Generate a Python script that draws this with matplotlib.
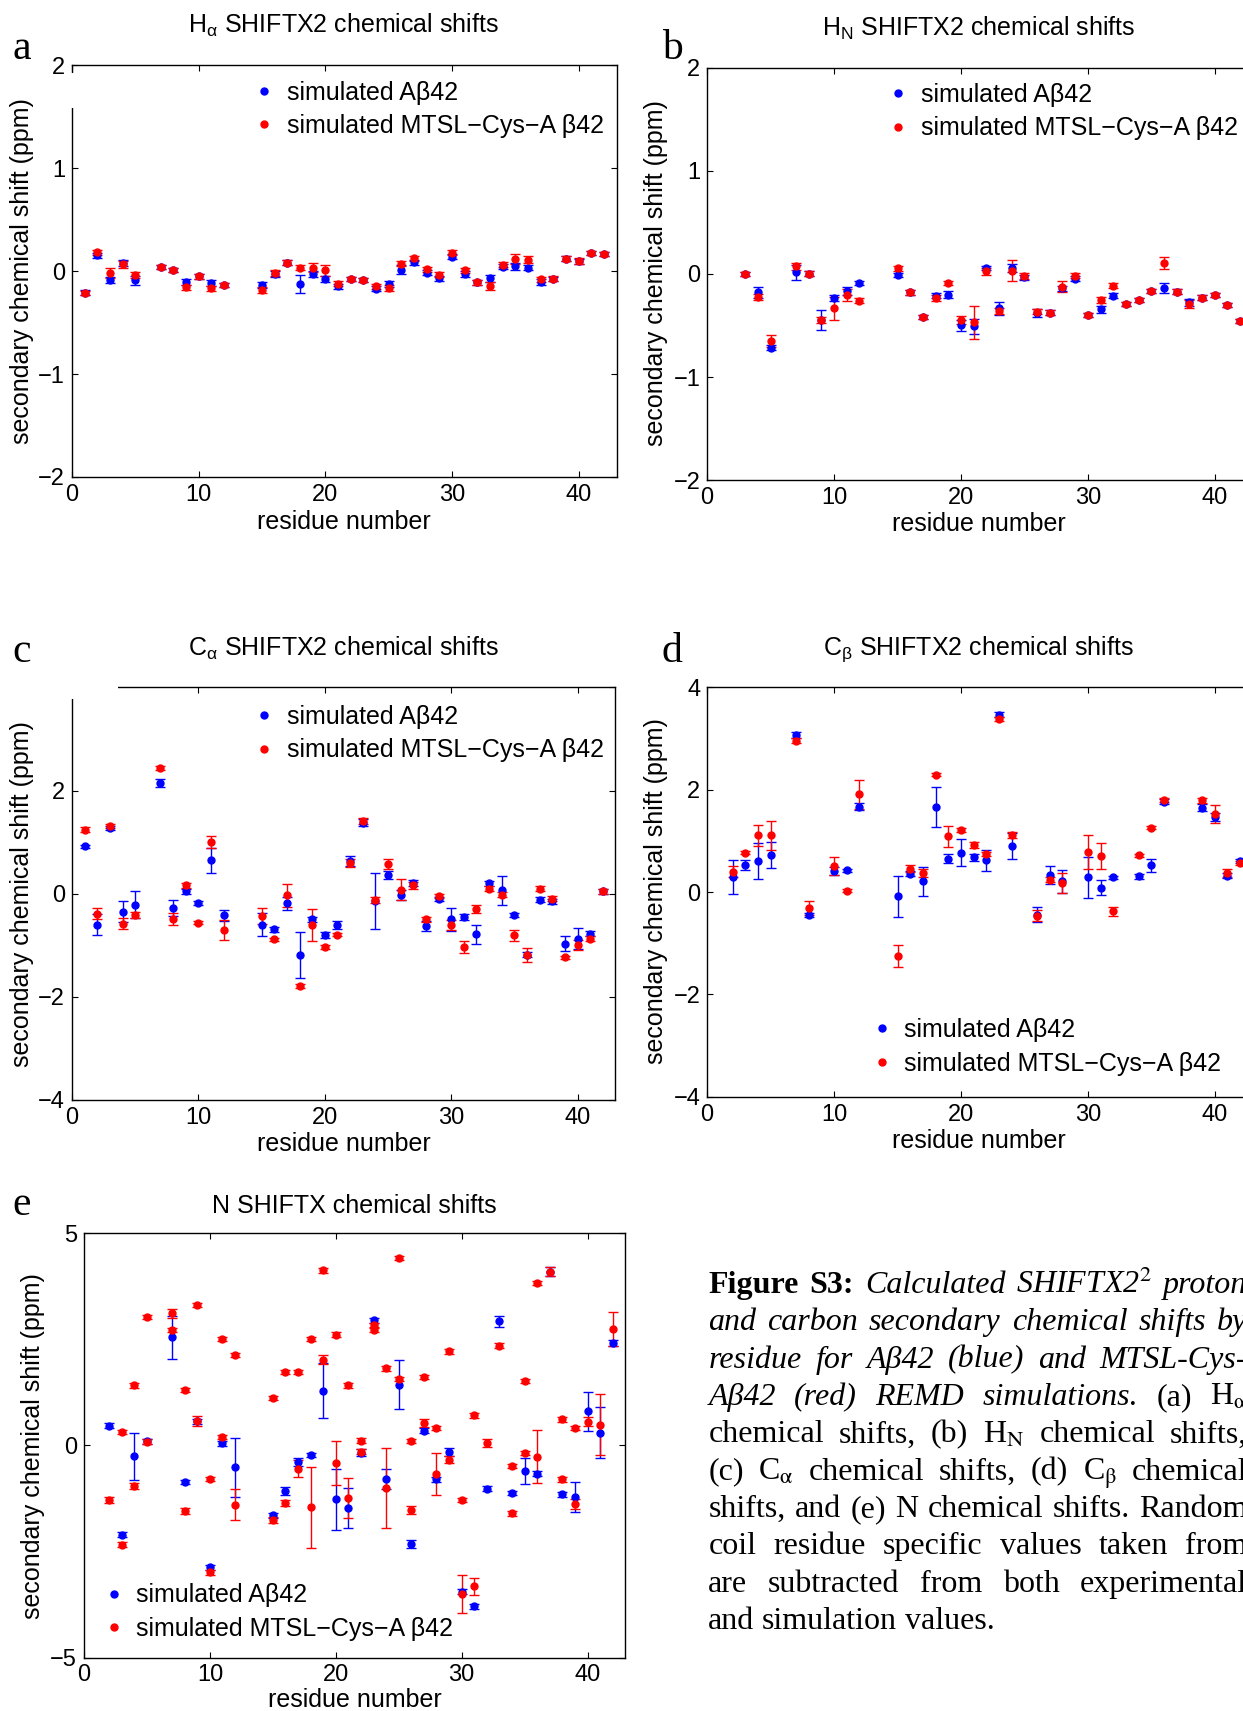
import numpy as np
import matplotlib
matplotlib.use("Agg")
import matplotlib.pyplot as plt
from matplotlib.lines import Line2D
from matplotlib.patches import Rectangle

plt.rcParams['font.family'] = ['Liberation Sans', 'DejaVu Sans']
plt.rcParams['mathtext.fontset'] = 'custom'
plt.rcParams['mathtext.rm'] = 'Liberation Sans'
plt.rcParams['mathtext.it'] = 'Liberation Sans:italic'
plt.rcParams['mathtext.bf'] = 'Liberation Sans:bold'

# ---- (a) H-alpha ----
a_res = [1, 2, 3, 4, 5, 7, 8, 9, 10, 11, 12,
         15, 16, 17, 18, 19, 20, 21, 22, 23, 24, 25, 26, 27, 28,
         29, 30, 31, 32, 33, 34, 35, 36, 37, 38, 39, 40, 41, 42]
a_blue = [-0.21, 0.155, -0.088, 0.08, -0.088, 0.04, 0.007, -0.106, -0.05, -0.113, -0.134,
          -0.134, -0.028, 0.081, -0.127, -0.028, -0.08, -0.145, -0.078, -0.088, -0.17, -0.124, 0.014, 0.085, -0.014,
          -0.07, 0.141, -0.028, -0.11, -0.07, 0.042, 0.046, 0.035, -0.106, -0.074, 0.12, 0.095, 0.18, 0.17]
a_blue_err = [0.025, 0.025, 0.03, 0.03, 0.045, 0.02, 0.02, 0.03, 0.025, 0.03, 0.02,
              0.025, 0.025, 0.025, 0.09, 0.025, 0.03, 0.025, 0.02, 0.02, 0.025, 0.03, 0.045, 0.025, 0.025,
              0.025, 0.025, 0.025, 0.02, 0.035, 0.025, 0.03, 0.025, 0.025, 0.02, 0.025, 0.025, 0.02, 0.02]
a_red = [-0.216, 0.184, -0.018, 0.065, -0.039, 0.04, 0.007, -0.155, -0.05, -0.166, -0.134,
         -0.187, -0.018, 0.081, 0.035, 0.035, 0.007, -0.124, -0.078, -0.088, -0.148, -0.16, 0.074, 0.127, 0.018,
         -0.035, 0.18, 0.007, -0.11, -0.145, 0.064, 0.12, 0.113, -0.081, -0.074, 0.12, 0.095, 0.18, 0.17]
a_red_err = [0.02, 0.025, 0.05, 0.03, 0.03, 0.02, 0.02, 0.025, 0.025, 0.025, 0.02,
             0.03, 0.025, 0.025, 0.025, 0.04, 0.05, 0.025, 0.02, 0.02, 0.025, 0.03, 0.025, 0.025, 0.025,
             0.025, 0.025, 0.025, 0.02, 0.04, 0.025, 0.05, 0.03, 0.025, 0.025, 0.025, 0.03, 0.02, 0.02]

# ---- (b) H-N ----
b_res = [3, 4, 5, 7, 8, 9, 10, 11, 12,
         15, 16, 17, 18, 19, 20, 21, 22, 23, 24, 25, 26, 27, 28,
         29, 30, 31, 32, 33, 34, 35, 36, 37, 38, 39, 40, 41, 42]
b_blue = [0.0, -0.18, -0.717, 0.014, 0.0, -0.447, -0.23, -0.164, -0.092,
          -0.01, -0.18, -0.42, -0.21, -0.2, -0.5, -0.51, 0.055, -0.334, 0.055, -0.034, -0.38, -0.375, -0.14,
          -0.048, -0.4, -0.345, -0.21, -0.29, -0.25, -0.167, -0.137, -0.174, -0.277, -0.229, -0.205, -0.3, -0.454]
b_blue_err = [0.02, 0.05, 0.025, 0.075, 0.025, 0.1, 0.03, 0.04, 0.02,
              0.02, 0.025, 0.02, 0.025, 0.03, 0.05, 0.075, 0.02, 0.06, 0.04, 0.025, 0.04, 0.02, 0.025,
              0.025, 0.02, 0.03, 0.02, 0.02, 0.02, 0.02, 0.05, 0.025, 0.03, 0.02, 0.02, 0.02, 0.02]
b_red = [0.0, -0.225, -0.65, 0.072, 0.0, -0.447, -0.334, -0.205, -0.26,
         0.055, -0.18, -0.42, -0.235, -0.09, -0.45, -0.47, 0.024, -0.36, 0.03, -0.02, -0.365, -0.375, -0.123,
         -0.017, -0.4, -0.256, -0.113, -0.29, -0.25, -0.167, 0.105, -0.174, -0.294, -0.229, -0.205, -0.3, -0.454]
b_red_err = [0.02, 0.03, 0.055, 0.03, 0.025, 0.03, 0.11, 0.06, 0.025,
             0.025, 0.025, 0.02, 0.03, 0.02, 0.04, 0.16, 0.03, 0.03, 0.1, 0.025, 0.025, 0.02, 0.05,
             0.025, 0.02, 0.03, 0.025, 0.02, 0.02, 0.02, 0.06, 0.025, 0.04, 0.02, 0.02, 0.02, 0.02]

# ---- (c) C-alpha ----
c_res = a_res
c_blue = [0.92, -0.60, 1.28, -0.35, -0.21, 2.15, -0.28, 0.045, -0.18, 0.65, -0.42,
          -0.60, -0.69, -0.19, -1.19, -0.5, -0.8, -0.61, 0.63, 1.38, -0.14, 0.36, -0.02, 0.21, -0.63,
          -0.1, -0.5, -0.45, -0.79, 0.2, 0.065, -0.42, -1.18, -0.12, -0.15, -0.97, -0.87, -0.78, 0.05]
c_blue_err = [0.03, 0.21, 0.04, 0.2, 0.26, 0.08, 0.15, 0.05, 0.04, 0.24, 0.1,
              0.23, 0.05, 0.12, 0.45, 0.04, 0.06, 0.08, 0.1, 0.06, 0.55, 0.08, 0.1, 0.06, 0.1,
              0.04, 0.23, 0.06, 0.18, 0.05, 0.28, 0.04, 0.04, 0.05, 0.05, 0.14, 0.2, 0.05, 0.05]
c_red = [1.24, -0.39, 1.32, -0.58, -0.42, 2.43, -0.49, 0.16, -0.56, 1.0, -0.70,
         -0.43, -0.88, -0.03, -1.79, -0.6, -1.04, -0.8, 0.6, 1.41, -0.13, 0.58, 0.08, 0.16, -0.5,
         -0.05, -0.61, -1.03, -0.29, 0.1, -0.02, -0.81, -1.19, 0.1, -0.1, -1.23, -1.0, -0.87, 0.045]
c_red_err = [0.05, 0.11, 0.04, 0.11, 0.06, 0.04, 0.12, 0.05, 0.03, 0.12, 0.19,
             0.15, 0.03, 0.22, 0.04, 0.31, 0.04, 0.03, 0.08, 0.06, 0.06, 0.1, 0.2, 0.06, 0.04,
             0.04, 0.1, 0.12, 0.08, 0.05, 0.05, 0.1, 0.13, 0.04, 0.05, 0.03, 0.1, 0.05, 0.05]

# ---- (d) C-beta (no glycines) ----
d_res = [2, 3, 4, 5, 7, 8, 10, 11, 12, 15, 16, 17, 18, 19, 20, 21,
         22, 23, 24, 26, 27, 28, 30, 31, 32, 34, 35, 36, 39, 40, 41, 42]
d_blue = [0.29, 0.53, 0.61, 0.73, 3.07, -0.44, 0.41, 0.43, 1.67, -0.08, 0.36, 0.21, 1.67, 0.65, 0.77, 0.68,
          0.62, 3.47, 0.9, -0.44, 0.33, 0.21, 0.29, 0.085, 0.29, 0.31, 0.52, 1.77, 1.65, 1.47, 0.32, 0.6]
d_blue_err = [0.33, 0.1, 0.35, 0.25, 0.06, 0.04, 0.08, 0.03, 0.07, 0.4, 0.05, 0.28, 0.39, 0.09, 0.26, 0.07,
              0.2, 0.05, 0.26, 0.15, 0.18, 0.23, 0.4, 0.15, 0.03, 0.05, 0.13, 0.04, 0.07, 0.08, 0.05, 0.04]
d_red = [0.40, 0.77, 1.11, 1.11, 2.96, -0.31, 0.51, 0.03, 1.91, -1.25, 0.46, 0.38, 2.29, 1.09, 1.21, 0.92,
         0.75, 3.38, 1.11, -0.46, 0.24, 0.18, 0.78, 0.7, -0.38, 0.72, 1.26, 1.80, 1.79, 1.53, 0.37, 0.56]
d_red_err = [0.1, 0.03, 0.2, 0.28, 0.05, 0.13, 0.17, 0.03, 0.29, 0.22, 0.06, 0.08, 0.03, 0.2, 0.04, 0.06,
             0.04, 0.04, 0.06, 0.1, 0.05, 0.2, 0.33, 0.25, 0.08, 0.03, 0.03, 0.04, 0.04, 0.18, 0.08, 0.04]

# ---- (e) N ----
e_res = [2, 3, 4, 5, 7, 8, 9, 10, 11, 12,
         15, 16, 17, 18, 19, 20, 21, 22, 23, 24, 25, 26, 27, 28,
         29, 30, 31, 32, 33, 34, 35, 36, 37, 38, 39, 40, 41, 42]
e_blue = [0.46, -2.11, -0.26, 0.10, 2.54, -0.87, 0.57, -2.87, 0.05, -0.52,
          -1.65, -1.08, -0.39, -0.22, 1.29, -1.27, -1.47, -0.17, 2.94, -0.79, 1.43, -2.33, 0.34, -0.8,
          -0.16, -3.45, -3.79, -1.02, 2.92, -1.13, -0.61, -0.67, 4.09, -1.15, -1.22, 0.8, 0.3, 2.41]
e_blue_err = [0.06, 0.06, 0.56, 0.06, 0.5, 0.05, 0.06, 0.06, 0.06, 0.7,
              0.06, 0.1, 0.1, 0.05, 0.64, 0.72, 0.47, 0.08, 0.06, 0.24, 0.58, 0.1, 0.06, 0.06,
              0.1, 0.06, 0.06, 0.05, 0.13, 0.05, 0.3, 0.06, 0.1, 0.06, 0.35, 0.46, 0.6, 0.06]
# the MTSL series shows two values at most residues in this panel
e_red_res = [2, 3, 3, 4, 4, 5, 5, 7, 7, 8, 8, 9, 9, 10, 10, 11, 11, 12, 12,
             15, 15, 16, 16, 17, 17, 18, 18, 19, 19, 20, 20, 21, 21, 22, 22,
             23, 23, 24, 24, 25, 25, 26, 26, 27, 27, 28, 28, 29, 29, 30, 30, 31, 31,
             32, 33, 34, 34, 35, 35, 36, 36, 37, 38, 38, 39, 39, 40, 41, 42]
e_red = [-1.29, 0.31, -2.34, 1.41, -0.96, 3.02, 0.08, 3.11, 2.72, 1.31, -1.54, 3.31, 0.57, -0.79, -2.99, 2.51, 0.2, 2.12, -1.4,
         1.11, -1.76, 1.72, -1.35, 1.72, -0.55, 2.51, -1.46, 4.12, 2.02, 2.61, -0.42, 1.41, -1.25, 0.11, -0.15,
         2.83, 2.72, 1.81, -1.0, 4.42, 1.57, 0.11, -1.52, 1.61, 0.53, 0.41, -0.67, 2.21, -0.34, -1.29, -3.5, 0.71, -3.32,
         0.06, 2.35, -0.49, -1.6, 1.51, -0.19, 3.82, -0.27, 4.09, 0.61, -0.8, 0.41, -1.39, 0.56, 0.48, 2.74]
e_red_err = [0.07, 0.05, 0.06, 0.05, 0.07, 0.05, 0.06, 0.1, 0.05, 0.05, 0.07, 0.05, 0.12, 0.05, 0.06, 0.05, 0.05, 0.05, 0.37,
             0.05, 0.06, 0.05, 0.07, 0.05, 0.2, 0.05, 0.96, 0.05, 0.1, 0.05, 0.52, 0.05, 0.47, 0.06, 0.06,
             0.05, 0.05, 0.05, 0.94, 0.05, 0.05, 0.05, 0.1, 0.05, 0.1, 0.05, 0.5, 0.05, 0.08, 0.05, 0.45, 0.06, 0.2,
             0.09, 0.05, 0.05, 0.06, 0.05, 0.05, 0.05, 0.62, 0.1, 0.05, 0.06, 0.05, 0.12, 0.1, 0.72, 0.39]

labels = ['simulated A\u03b242', 'simulated MTSL\u2212Cys\u2212A \u03b242']

# layout is measured on the 1139 x 1568 preview
W, H = 1139.0, 1568.0
fig = plt.figure(figsize=(12.43, 17.11), dpi=100)


def fx(x):
    return x / W


def fy(y):
    return 1 - y / H


def panel(box, ylim, yticks, rb, vb, eb, rr, vr, er):
    l, t, r, b = box
    ax = fig.add_axes([fx(l), fy(b), (r - l) / W, (b - t) / H])
    ax.errorbar(rb, vb, yerr=eb, fmt='o', color='blue', ms=5, capsize=3.5,
                elinewidth=1, capthick=1)
    ax.errorbar(rr, vr, yerr=er, fmt='o', color='red', ms=5, capsize=3.5,
                elinewidth=1, capthick=1)
    ax.set_xlim(0, 43)
    ax.set_ylim(*ylim)
    ax.set_xticks([0, 10, 20, 30, 40])
    ax.set_yticks(yticks)
    ax.tick_params(direction='in', top=True, right=True, length=4, width=0.8,
                   labelsize=17, pad=5)
    for s in ax.spines.values():
        s.set_linewidth(1)
    return ax


def legend(ax, x, y):
    h = [Line2D([], [], ls='none', marker='o', ms=5, color=c) for c in ('blue', 'red')]
    ax.legend(h, labels, loc='upper left', bbox_to_anchor=(fx(x), fy(y)),
              bbox_transform=fig.transFigure, frameon=False, fontsize=18,
              handlelength=0.8, handletextpad=0.5, labelspacing=0.38,
              borderpad=0, borderaxespad=0)


def texts(letter, lxy, title, txy, xxy, yxy):
    fig.text(fx(lxy[0]), fy(lxy[1]), letter, fontsize=30, family='Liberation Serif',
             ha='center', va='center')
    fig.text(fx(txy[0]), fy(txy[1]), title, fontsize=18, ha='center', va='baseline')
    fig.text(fx(xxy[0]), fy(xxy[1]), 'residue number', fontsize=18, ha='center', va='center')
    fig.text(fx(yxy[0]), fy(yxy[1]), 'secondary chemical shift (ppm)', fontsize=18,
             rotation=90, ha='center', va='center')


ax = panel((66, 60, 565, 437), (-2, 2), [-2, -1, 0, 1, 2],
           a_res, a_blue, a_blue_err, a_res, a_red, a_red_err)
legend(ax, 233, 74)
texts('a', (20, 45), 'H$_\\mathrm{α}$ SHIFTX2 chemical shifts', (315, 30), (315, 478), (20, 248))

ax = panel((648, 62, 1148, 440), (-2, 2), [-2, -1, 0, 1, 2],
           b_res, b_blue, b_blue_err, b_res, b_red, b_red_err)
legend(ax, 814, 76)
texts('b', (616, 45), 'H$_\\mathrm{N}$ SHIFTX2 chemical shifts', (897, 33), (897, 480), (601, 250))

ax = panel((66, 630, 564, 1008), (-4, 4), [-4, -2, 0, 2, 4],
           c_res, c_blue, c_blue_err, c_res, c_red, c_red_err)
legend(ax, 233, 646)
texts('c', (20, 597), 'C$_\\mathrm{α}$ SHIFTX2 chemical shifts', (315, 601), (315, 1048), (20, 819))

ax = panel((648, 630, 1148, 1005), (-4, 4), [-4, -2, 0, 2, 4],
           d_res, d_blue, d_blue_err, d_res, d_red, d_red_err)
legend(ax, 799, 933)
texts('d', (616, 597), 'C$_\\mathrm{β}$ SHIFTX2 chemical shifts', (897, 600), (897, 1046), (601, 817))

ax = panel((77, 1130, 573, 1519), (-5, 5), [-5, 0, 5],
           e_res, e_blue, e_blue_err, e_red_res, e_red, e_red_err)
legend(ax, 95, 1451)
texts('e', (20, 1104), 'N SHIFTX chemical shifts', (325, 1112), (325, 1558), (30, 1325))

# white label boxes of the original hide bits of the frame in (a) and (c)
for l, t, r, b in [(61, 67, 71, 99), (30, 618, 108, 641)]:
    fig.add_artist(Rectangle((fx(l), fy(b)), (r - l) / W, (b - t) / H,
                             transform=fig.transFigure, facecolor='white',
                             edgecolor='none', zorder=10))

# caption, justified like the original (it runs past the right edge there too)
caption = [
    [('Figure', 'b'), ('S3:', 'b'), ('Calculated', 'i'), ('SHIFTX2$^2$', 'i'), ('proton', 'i')],
    [(w, 'i') for w in 'and carbon secondary chemical shifts by'.split()],
    [(w, 'i') for w in 'residue for Aβ42 (blue) and MTSL-Cys-'.split()],
    [(w, 'i') for w in 'Aβ42 (red) REMD simulations.'.split()] + [('(a)', ''), ('H$_\\mathrm{α}$', '')],
    [(w, '') for w in ['chemical', 'shifts,', '(b)', 'H$_\\mathrm{N}$', 'chemical', 'shifts,']],
    [(w, '') for w in ['(c)', 'C$_\\mathrm{α}$', 'chemical', 'shifts,', '(d)', 'C$_\\mathrm{β}$', 'chemical']],
    [(w, '') for w in 'shifts, and (e) N chemical shifts. Random'.split()],
    [(w, '') for w in 'coil residue specific values taken from'.split()],
    [(w, '') for w in 'are subtracted from both experimental'.split()],
    [(w, '') for w in 'and simulation values.'.split()],
]
cap_left, cap_right = fx(649), fx(1143)
renderer = fig.canvas.get_renderer()
for i, words in enumerate(caption):
    yb = fy(1185 + 34.2 * i)
    items = []
    for w, st in words:
        items.append(fig.text(0, yb, w, fontsize=23, family='Liberation Serif',
                              style='italic' if 'i' in st else 'normal',
                              weight='bold' if 'b' in st else 'normal',
                              math_fontfamily='stix', va='baseline', ha='left'))
    widths = [t.get_window_extent(renderer).width / fig.bbox.width for t in items]
    if i < len(caption) - 1:
        gap = (cap_right - cap_left - sum(widths)) / (len(items) - 1)
    else:
        gap = 7.5 / fig.bbox.width
    x = cap_left
    for t, w in zip(items, widths):
        t.set_x(x)
        x += w + gap

fig.savefig('out.png', dpi=100)
